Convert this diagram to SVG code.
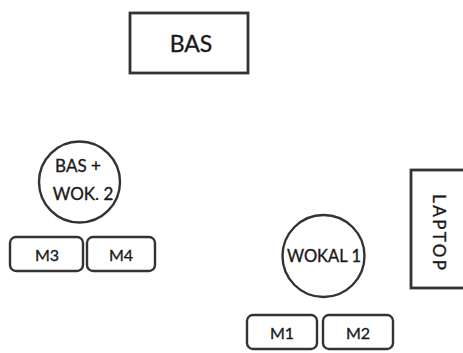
<svg xmlns="http://www.w3.org/2000/svg" width="463" height="353" viewBox="0 0 463 353">
<style>
.shape{fill:#fff;stroke:#333;stroke-width:2.4}
.lbl{font-family:Lato,"Liberation Sans",sans-serif;fill:#1a1a1a;stroke:#1a1a1a;stroke-width:0.35;text-anchor:middle;dominant-baseline:central}
.m{font-size:16px}
</style>
<rect width="463" height="353" fill="#fff"/>
<g id="connectors"></g>
<g id="bas">
<rect class="shape" x="130" y="13" width="118" height="60" style="stroke-width:2.8"/>
<text class="lbl" x="191" y="43" font-size="23">BAS</text>
</g>
<g id="bas-wok2">
<circle class="shape" cx="79.5" cy="182" r="40.5"/>
<text class="lbl" x="78" y="165" font-size="17">BAS +</text>
<text class="lbl" x="83" y="193" font-size="17">WOK. 2</text>
</g>
<g id="m3">
<rect class="shape" x="10" y="237" width="73" height="34" rx="6"/>
<text class="lbl m" x="47" y="254">M3</text>
</g>
<g id="m4">
<rect class="shape" x="87" y="237" width="68" height="34" rx="6"/>
<text class="lbl m" x="121" y="254">M4</text>
</g>
<g id="wokal1">
<circle class="shape" cx="323.5" cy="256" r="41"/>
<text class="lbl" x="324" y="256" font-size="16.5">WOKAL 1</text>
</g>
<g id="laptop">
<rect class="shape" x="411" y="170" width="60" height="118" style="stroke-width:2.8"/>
<text class="lbl" transform="translate(439,232) rotate(90)" x="0" y="0" font-size="17" textLength="76" lengthAdjust="spacing">LAPTOP</text>
</g>
<g id="m1">
<rect class="shape" x="247" y="315" width="70" height="34" rx="6"/>
<text class="lbl m" x="282" y="332">M1</text>
</g>
<g id="m2">
<rect class="shape" x="323" y="315" width="70" height="34" rx="6"/>
<text class="lbl m" x="358" y="332">M2</text>
</g>
</svg>
